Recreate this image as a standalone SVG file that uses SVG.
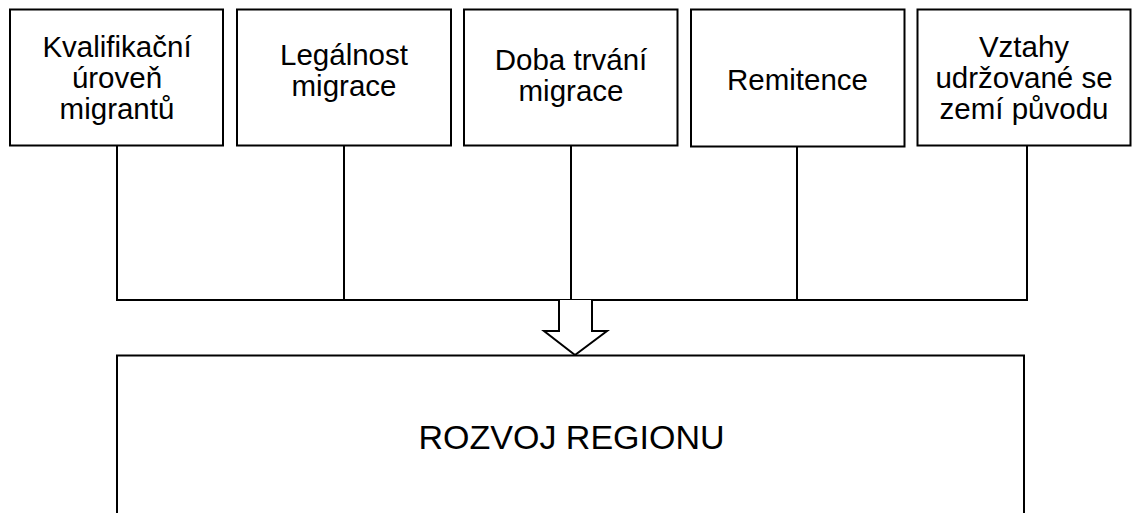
<svg xmlns="http://www.w3.org/2000/svg" width="1132" height="513" viewBox="0 0 1132 513">
<style>
.box{fill:#fff;stroke:#000;stroke-width:2}
.t{font-family:"Liberation Sans",Arial,sans-serif;font-size:29.5px;fill:#000;text-anchor:middle}
.big{font-family:"Liberation Sans",Arial,sans-serif;font-size:34px;fill:#000;text-anchor:middle}
.ln{stroke:#000;stroke-width:2;fill:none}
</style>
<rect width="1132" height="513" fill="#fff"/>
<g id="connectors">
<path class="ln" d="M117,146 V301 M344,146 V301 M571,146 V301 M797,147 V301 M1027,146 V301 M117,300 H1028"/>
<path class="ln" style="fill:#fff" d="M559,300 V331 H544 L575,355 L607,331 H592 V300"/>
</g>
<g id="n1"><rect class="box" x="10" y="9.5" width="213" height="136"/>
<text class="t" x="117" y="57">Kvalifikační</text><text class="t" x="117" y="88">úroveň</text><text class="t" x="117" y="119">migrantů</text></g>
<g id="n2"><rect class="box" x="237" y="9.5" width="214" height="136"/>
<text class="t" x="344" y="65">Legálnost</text><text class="t" x="344" y="96">migrace</text></g>
<g id="n3"><rect class="box" x="464" y="9.5" width="213.5" height="136"/>
<text class="t" x="571" y="70">Doba trvání</text><text class="t" x="571" y="101">migrace</text></g>
<g id="n4"><rect class="box" x="691" y="9.5" width="213.5" height="137"/>
<text class="t" x="797.5" y="90">Remitence</text></g>
<g id="n5"><rect class="box" x="917.5" y="9.5" width="213" height="136"/>
<text class="t" x="1024" y="57">Vztahy</text><text class="t" x="1024" y="88">udržované se</text><text class="t" x="1024" y="119">zemí původu</text></g>
<g id="n6"><path class="box" d="M117,520 V355.5 H1024 V520"/>
<text class="big" x="571.5" y="449">ROZVOJ REGIONU</text></g>
</svg>
